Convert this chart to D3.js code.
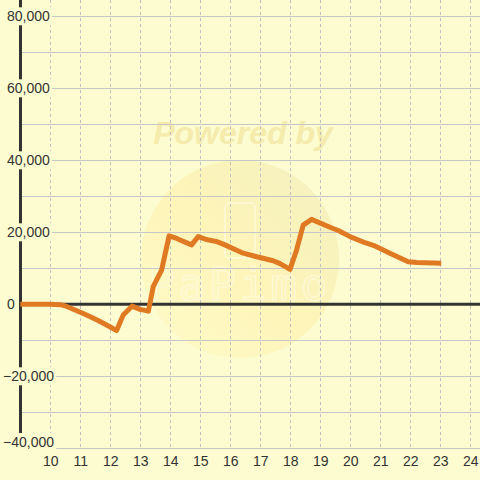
<!DOCTYPE html>
<html><head><meta charset="utf-8">
<script src="https://cdn.jsdelivr.net/npm/d3@7/dist/d3.min.js"></script>
<style>html,body{margin:0;padding:0;background:#fcfcd0;}svg{display:block;font-family:"Liberation Sans",Arial,sans-serif;}</style>
</head><body>
<svg id="c" width="480" height="480"></svg>
<script>
const xTicks = [10,11,12,13,14,15,16,17,18,19,20,21,22,23,24];
const yLabelTicks = [80000,60000,40000,20000,0,-20000,-40000];
const yGridTicks = [80000,70000,60000,50000,40000,30000,20000,10000,0,-10000,-20000,-30000,-40000];
const seriesX = [9.0,10.0,10.33,10.55,11.0,11.32,11.66,12.0,12.21,12.43,12.73,12.99,13.27,13.43,13.71,13.96,14.21,14.71,14.93,15.2,15.55,15.82,16.43,16.88,17.43,17.66,17.99,18.21,18.43,18.71,19.32,19.6,19.99,20.49,20.82,21.32,21.93,22.21,23.03];
const seriesY = [0,0,-100,-600,-2200,-3400,-4800,-6300,-7300,-3000,-500,-1400,-1900,4900,9500,19000,18300,16500,18800,18000,17400,16500,14200,13200,12100,11300,9700,15100,22000,23600,21400,20500,18800,17100,16200,14200,11800,11600,11400];

const bg = "#fcfcd0";
const svg = d3.select("#c");
svg.append("rect").attr("width",480).attr("height",480).attr("fill",bg);

const x = d3.scaleLinear().domain([9,24]).range([20.3,470.3]);
const y = d3.scaleLinear().domain([-40000,80000]).range([448.3,16.3]);

// watermark
const defs = svg.append("defs");
const lg = defs.append("linearGradient").attr("id","wm").attr("x1","0").attr("y1","1").attr("x2","1").attr("y2","0");
lg.append("stop").attr("offset","0").attr("stop-color","#fffac8");
lg.append("stop").attr("offset","0.5").attr("stop-color","#fdf3b4");
lg.append("stop").attr("offset","1").attr("stop-color","#f2eebe");
svg.append("circle").attr("cx",240).attr("cy",259).attr("r",99).attr("fill","url(#wm)").attr("opacity",0.85);
svg.append("rect").attr("x",225).attr("y",203).attr("width",30).attr("height",55).attr("rx",4)
  .attr("fill","none").attr("stroke","#fffbe0").attr("stroke-width",1.5).attr("opacity",0.8);
svg.append("text").attr("x",240).attr("y",300).attr("text-anchor","middle")
  .attr("font-size",44).attr("font-family","DejaVu Sans Mono, monospace").attr("letter-spacing",4)
  .attr("fill","none").attr("stroke","#fffbe0").attr("stroke-width",1.2).attr("opacity",0.8).text("PaPimo");
svg.append("text").attr("x",243).attr("y",144).attr("text-anchor","middle")
  .attr("font-size",32).attr("font-weight","bold").attr("font-style","italic")
  .attr("fill","#f3e8a4").attr("opacity",0.8).text("Powered by");

// horizontal gridlines
svg.append("g").selectAll("line").data(yGridTicks).join("line")
  .attr("x1",21).attr("x2",480).attr("y1",d=>Math.round(y(d))+0.5).attr("y2",d=>Math.round(y(d))+0.5)
  .attr("stroke","#c6c6c6").attr("stroke-width",1);

// vertical dashed gridlines
svg.append("g").selectAll("line").data(xTicks).join("line")
  .attr("x1",d=>Math.round(x(d))+0.5).attr("x2",d=>Math.round(x(d))+0.5).attr("y1",0).attr("y2",448)
  .attr("stroke","#c0c0c0").attr("stroke-width",1).attr("stroke-dasharray","3,3");

// zero line
svg.append("line").attr("x1",21).attr("x2",480).attr("y1",y(0)).attr("y2",y(0))
  .attr("stroke","#333").attr("stroke-width",3);

// y axis line
svg.append("line").attr("x1",20.5).attr("x2",20.5).attr("y1",0).attr("y2",448)
  .attr("stroke","#333").attr("stroke-width",3);

// data line
const line = d3.line().x(d=>x(d[0])).y(d=>y(d[1]));
svg.append("path").datum(seriesX.map((v,i)=>[v,seriesY[i]]))
  .attr("d",line).attr("fill","none").attr("stroke","#e07a22").attr("stroke-width",5)
  .attr("stroke-linejoin","round").attr("stroke-linecap","butt");

// y labels with background
const fmt = d3.format(",");
const yl = svg.append("g").selectAll("g").data(yLabelTicks).join("g")
  .attr("transform",d=>`translate(${d<0?3:7},${Math.min(y(d),442)})`);
yl.append("text").attr("dominant-baseline","central").attr("font-size",14).attr("fill","#333").text(d=>fmt(d));
yl.each(function(){
  const g=d3.select(this); const b=g.select("text").node().getBBox();
  g.insert("rect","text").attr("x",b.x-1).attr("y",b.y-1).attr("width",b.width+3).attr("height",b.height+2).attr("fill",bg);
});

// x axis labels
const xa = svg.append("g").attr("transform","translate(0,461)")
  .call(d3.axisBottom(x).tickValues(xTicks).tickSize(0).tickPadding(0).tickFormat(d3.format("d")));
xa.select(".domain").remove();
xa.selectAll("text").attr("dy","0.35em").attr("font-size",14).attr("fill","#333")
  .attr("font-family","Liberation Sans, Arial, sans-serif");
</script>
</body></html>
